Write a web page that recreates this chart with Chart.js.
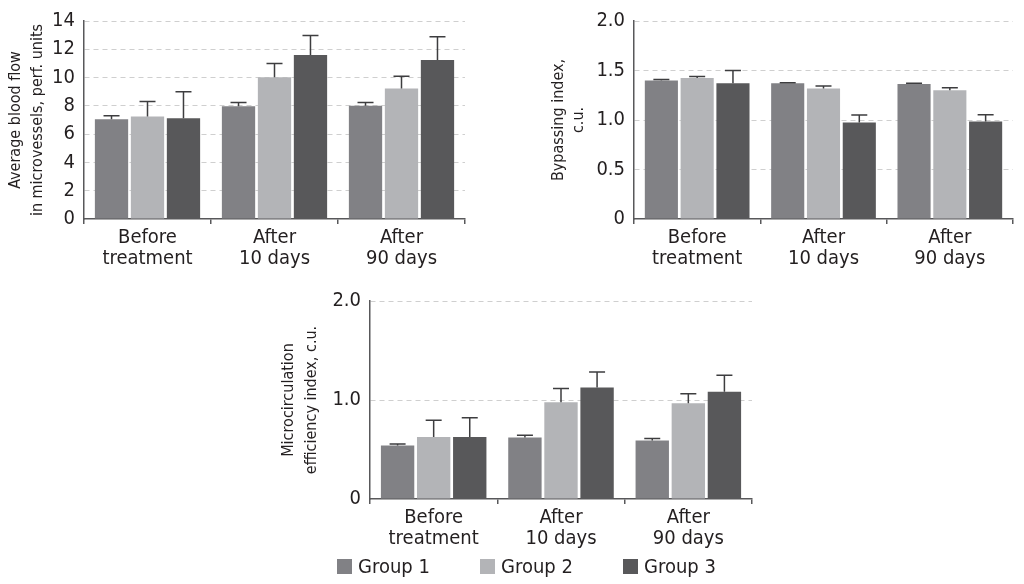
<!DOCTYPE html>
<html>
<head>
<meta charset="utf-8">
<script src="https://cdn.jsdelivr.net/npm/chart.js@4.4.1/dist/chart.umd.min.js"></script>
<style>
  html, body { margin: 0; padding: 0; background: #fff; overflow: hidden; }
  .box { position: absolute; }
  #legend { position: absolute; left: 337px; top: 552px; height: 28px; display: flex;
            font-family: 'Liberation Sans Narrow', 'DejaVu Sans Condensed', 'Noto Sans', sans-serif;
            font-size: 20px; color: #231f20; }
  #legend .item { width: 143px; display: flex; align-items: center; height: 28px; white-space: nowrap; }
  #legend .sw { width: 15px; height: 15px; margin-right: 6px; flex: none; }
</style>
</head>
<body>
<div class="box" style="left:0;top:0;width:480px;height:275px"><canvas id="chart-flow"></canvas></div>
<div class="box" style="left:540px;top:0;width:484px;height:275px"><canvas id="chart-bypass"></canvas></div>
<div class="box" style="left:270px;top:280px;width:500px;height:304px"><canvas id="chart-micro"></canvas></div>
<div id="legend"></div>
<script>
(() => {
    const CATEGORIES = [['Before', 'treatment'], ['After', '10 days'], ['After', '90 days']];
    const GROUPS = ['Group 1', 'Group 2', 'Group 3'];
    const COLORS = ['#818185', '#b3b4b7', '#58585a'];

    // average blood flow, perf. units (mean per group, upper error)
    const flowG1 = [7.05, 7.98, 8.0];
    const flowG2 = [7.24, 10.02, 9.22];
    const flowG3 = [7.12, 11.6, 11.24];
    const flowErrG1 = [0.25, 0.25, 0.23];
    const flowErrG2 = [1.06, 0.98, 0.88];
    const flowErrG3 = [1.88, 1.37, 1.64];

    // bypassing index, c.u.
    const bypassG1 = [1.40, 1.372, 1.363];
    const bypassG2 = [1.425, 1.317, 1.30];
    const bypassG3 = [1.37, 0.975, 0.985];
    const bypassErrG1 = [0.01, 0.005, 0.007];
    const bypassErrG2 = [0.015, 0.026, 0.027];
    const bypassErrG3 = [0.13, 0.075, 0.069];

    // microcirculation efficiency index, c.u.
    const microG1 = [0.54, 0.62, 0.591];
    const microG2 = [0.627, 0.978, 0.968];
    const microG3 = [0.627, 1.126, 1.084];
    const microErrG1 = [0.015, 0.023, 0.02];
    const microErrG2 = [0.168, 0.138, 0.096];
    const microErrG3 = [0.193, 0.158, 0.167];

    const FONT = "'Liberation Sans Narrow', 'DejaVu Sans Condensed', 'Roboto Condensed', 'Noto Sans', sans-serif";
    const TEXT = '#231f20';
    const AXIS = '#58585a';

    const errorBars = {
        id: 'errorBars',
        afterDatasetsDraw(chart) {
            const ctx = chart.ctx;
            const y = chart.scales.y;
            chart.data.datasets.forEach((ds, i) => {
                const meta = chart.getDatasetMeta(i);
                meta.data.forEach((bar, j) => {
                    const top = y.getPixelForValue(ds.data[j] + ds.errors[j]);
                    ctx.save();
                    ctx.strokeStyle = '#3d3d3f';
                    ctx.lineWidth = 1.5;
                    ctx.beginPath();
                    ctx.moveTo(bar.x, bar.y);
                    ctx.lineTo(bar.x, top);
                    ctx.moveTo(bar.x - 8, top);
                    ctx.lineTo(bar.x + 8, top);
                    ctx.stroke();
                    ctx.restore();
                });
            });
        },
    };

    function groupSets(means, errs) {
        return means.map((m, k) => ({
            label: GROUPS[k],
            data: m,
            errors: errs[k],
            backgroundColor: COLORS[k],
            borderWidth: 0,
            categoryPercentage: 0.85,
            barPercentage: 0.925,
        }));
    }

    function buildChart(id, o) {
        return new Chart(document.getElementById(id), {
            type: 'bar',
            data: { labels: CATEGORIES, datasets: groupSets(o.means, o.errs) },
            plugins: [errorBars],
            options: {
                responsive: true,
                maintainAspectRatio: false,
                animation: false,
                layout: { padding: { top: 16, right: o.padRight, bottom: 0, left: 0 } },
                plugins: {
                    tooltip: { enabled: false },
                    legend: { display: false },
                },
                scales: {
                    x: {
                        afterFit: s => { s.height = o.xHeight; },
                        grid: { display: true, drawOnChartArea: false, drawTicks: true, tickLength: 5, color: AXIS, lineWidth: 1.5, offset: true },
                        border: { display: true, color: AXIS, width: 1.5 },
                        ticks: { color: TEXT, padding: 3, maxRotation: 0, autoSkip: false, font: { family: FONT, size: 20, lineHeight: 1.05 } },
                    },
                    y: {
                        min: 0,
                        max: o.max,
                        afterFit: s => { s.width = o.yWidth; },
                        grid: { color: ctx => ctx.tick && ctx.tick.value === 0 ? 'rgba(0,0,0,0)' : '#cfcfcf', lineWidth: 1, drawTicks: false },
                        border: { display: true, color: AXIS, width: 1.5, dash: [5, 4] },
                        ticks: {
                            stepSize: o.step,
                            padding: 9,
                            color: TEXT,
                            font: { family: FONT, size: 20 },
                            callback: v => (v === 0 ? '0' : (o.decimals ? v.toFixed(1) : String(v))),
                        },
                        title: {
                            display: true,
                            text: o.title,
                            color: TEXT,
                            font: { family: FONT, size: 16, lineHeight: o.titleLH },
                            padding: { top: o.titlePad, bottom: 0 },
                        },
                    },
                },
            },
        });
    }

    buildChart('chart-flow', {
        means: [flowG1, flowG2, flowG3],
        errs: [flowErrG1, flowErrG2, flowErrG3],
        max: 14, step: 2, decimals: false,
        title: ['Average blood flow', 'in microvessels, perf. units'],
        titleLH: 1.35, titlePad: 5,
        yWidth: 84, xHeight: 56, padRight: 15,
    });

    buildChart('chart-bypass', {
        means: [bypassG1, bypassG2, bypassG3],
        errs: [bypassErrG1, bypassErrG2, bypassErrG3],
        max: 2, step: 0.5, decimals: true,
        title: ['Bypassing index,', 'c.u.'],
        titleLH: 1.3, titlePad: 8,
        yWidth: 94, xHeight: 56, padRight: 11,
    });

    buildChart('chart-micro', {
        means: [microG1, microG2, microG3],
        errs: [microErrG1, microErrG2, microErrG3],
        max: 2, step: 1, decimals: true,
        title: ['Microcirculation', 'efficiency index, c.u.'],
        titleLH: 1.45, titlePad: 7,
        yWidth: 100, xHeight: 85, padRight: 18,
    });

    // shared legend for the three panels
    const legend = document.getElementById('legend');
    GROUPS.forEach((g, k) => {
        const item = document.createElement('div');
        item.className = 'item';
        const sw = document.createElement('span');
        sw.className = 'sw';
        sw.style.background = COLORS[k];
        const label = document.createElement('span');
        label.textContent = g;
        item.append(sw, label);
        legend.appendChild(item);
    });
})();
</script>
</body>
</html>
